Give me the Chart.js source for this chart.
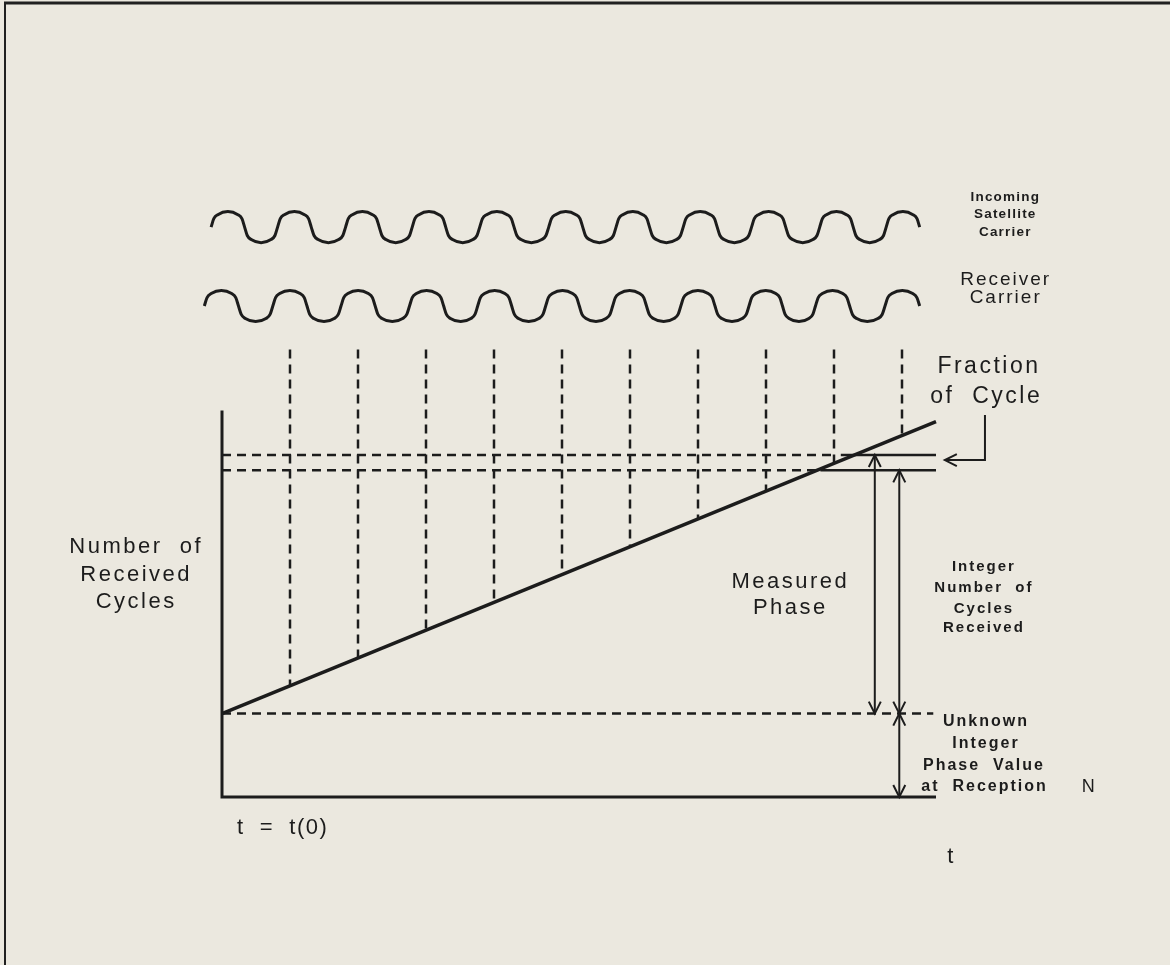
<!DOCTYPE html>
<html>
<head>
<meta charset="utf-8">
<script src="https://cdn.jsdelivr.net/npm/chart.js@4.4.1/dist/chart.umd.min.js"></script>
<style>
html,body{margin:0;padding:0;background:#ebe8df;}
#wrap{position:relative;width:1170px;height:965px;}
</style>
</head>
<body>
<div id="wrap"><canvas id="phaseChart" width="1170" height="965"></canvas></div>
<script>
// x = time t in carrier cycles (0 at t(0)), y = received phase in cycles

// crests of the two carriers
let satelliteCrests = [0.09, 1.06, 2.07, 3.04, 4.04, 5.06, 6.04, 7.03, 8.04, 9.04, 10.01]
let receiverCrests  = [-0.01, 1.0, 2.0, 3.01, 4.01, 5.01, 5.99, 7.0, 8.0, 8.97, 10.01]
let satelliteLevel = 20.5
let receiverLevel = 17.66
let carrierAmp = 0.56

// whole cycles marked with dashed verticals
let cycleTicks = [1, 2, 3, 4, 5, 6, 7, 8, 9, 10]
let tickTop = 16.1

// received phase line
let phaseT = [0, 10.5]
let phaseY = [3, 13.5]
let unknownN = 3
let measuredLevel = 12.3
let integerLevel = 11.75
let axisTop = 13.9
let axisEnd = 10.5

// arrows: [t, from, to]
let arrows = [
  [9.6, 3, 12.3],     // measured phase
  [9.96, 3, 11.75],   // integer number of cycles
  [9.96, 0, 3]        // unknown integer N
]
let fractionPointer = [[11.22, 13.74], [11.22, 12.12], [10.63, 12.12]]

// labels: text, t, y, font, letter spacing
let labels = [
  ['Incoming', 11.51, 21.58, 'bold 13.5px "Liberation Sans"', 1.2],
  ['Satellite', 11.51, 20.97, 'bold 13.5px "Liberation Sans"', 1.2],
  ['Carrier', 11.51, 20.32, 'bold 13.5px "Liberation Sans"', 1.2],
  ['Receiver', 11.51, 18.60, '19px "Liberation Sans"', 2],
  ['Carrier', 11.51, 17.95, '19px "Liberation Sans"', 2],
  ['Fraction', 11.26, 15.47, '23px "Liberation Sans"', 2.5],
  ['of  Cycle', 11.22, 14.39, '23px "Liberation Sans"', 2.5],
  ['Measured', 8.34, 7.73, '22px "Liberation Sans"', 2.5],
  ['Phase', 8.34, 6.80, '22px "Liberation Sans"', 2.5],
  ['Number  of', -1.28, 8.99, '22px "Liberation Sans"', 2.5],
  ['Received', -1.28, 7.99, '22px "Liberation Sans"', 2.5],
  ['Cycles', -1.28, 7.01, '22px "Liberation Sans"', 2.5],
  ['Integer', 11.19, 8.27, 'bold 15px "Liberation Sans"', 2],
  ['Number  of', 11.19, 7.52, 'bold 15px "Liberation Sans"', 2],
  ['Cycles', 11.19, 6.76, 'bold 15px "Liberation Sans"', 2],
  ['Received', 11.19, 6.08, 'bold 15px "Liberation Sans"', 2],
  ['Unknown', 11.22, 2.70, 'bold 16px "Liberation Sans"', 2],
  ['Integer', 11.22, 1.91, 'bold 16px "Liberation Sans"', 2],
  ['Phase  Value', 11.19, 1.12, 'bold 16px "Liberation Sans"', 2],
  ['at  Reception', 11.20, 0.36, 'bold 16px "Liberation Sans"', 2],
  ['N', 12.74, 0.36, '18px "Liberation Sans"', 0],
  ['t  =  t(0)', 0.88, -1.12, '22px "Liberation Sans"', 1.5],
  ['t', 10.71, -2.16, '22px "Liberation Sans"', 0]
]

// page scale: pixels per cycle and where t(0) / phase 0 sit on the page
let W = 1170, H = 965
let pxT = 68, pxY = 27.8, originX = 222, originY = 797

// shape of one half wave (fraction of width, fraction of amplitude)
let hump = [[0, 0], [0.08, 0.54], [0.2, 0.8], [0.5, 1], [0.8, 0.8], [0.92, 0.54]]

function carrier(crests, level, amp) {
  let cross = [crests[0] - 0.25]
  for (let i = 0; i < crests.length - 1; i++) {
    let m = (crests[i] + crests[i + 1]) / 2
    cross.push((crests[i] + m) / 2, (m + crests[i + 1]) / 2)
  }
  cross.push(crests[crests.length - 1] + 0.25)
  let pts = []
  for (let i = 0; i < cross.length - 1; i++) {
    let a = cross[i], w = cross[i + 1] - a, s = i % 2 == 0 ? 1 : -1
    hump.forEach(h => pts.push({x: a + h[0] * w, y: level + s * h[1] * amp}))
  }
  pts.push({x: cross[cross.length - 1], y: level})
  return pts
}

function lineAt(t) {
  return phaseY[0] + (phaseY[1] - phaseY[0]) * (t - phaseT[0]) / (phaseT[1] - phaseT[0])
}

let ink = '#1c1c1c'

let tickPts = []
cycleTicks.forEach(t => {
  tickPts.push({x: t, y: tickTop}, {x: t, y: lineAt(t)}, {x: t, y: null})
})

let dashH = [
  {x: 0, y: measuredLevel}, {x: 9.0, y: measuredLevel}, {x: 9.0, y: null},
  {x: 0, y: integerLevel}, {x: 8.75, y: integerLevel}, {x: 8.75, y: null},
  {x: 0, y: unknownN}, {x: 10.46, y: unknownN}
]
let solidH = [
  {x: 9.1, y: measuredLevel}, {x: axisEnd, y: measuredLevel}, {x: axisEnd, y: null},
  {x: 8.8, y: integerLevel}, {x: axisEnd, y: integerLevel}
]

function ds(data, width, dash, mono) {
  return {
    data: data, borderColor: ink, borderWidth: width, borderDash: dash || [],
    pointRadius: 0, fill: false, spanGaps: false,
    tension: 0, cubicInterpolationMode: mono ? 'monotone' : 'default'
  }
}

function arrowHead(ctx, x, y, dx, dy) {
  let L = 12, Wd = 6
  let bx = x - dx * L, by = y - dy * L
  ctx.beginPath()
  ctx.moveTo(bx - dy * Wd, by + dx * Wd)
  ctx.lineTo(x, y)
  ctx.lineTo(bx + dy * Wd, by - dx * Wd)
  ctx.stroke()
}

let paper = {
  id: 'paper',
  beforeDraw(chart) {
    let ctx = chart.ctx
    ctx.save()
    ctx.fillStyle = '#ebe8df'
    ctx.fillRect(0, 0, W, H)
    ctx.strokeStyle = '#202020'
    ctx.lineWidth = 3
    ctx.beginPath(); ctx.moveTo(4, 3); ctx.lineTo(W, 3); ctx.stroke()
    ctx.lineWidth = 2
    ctx.beginPath(); ctx.moveTo(5, 3); ctx.lineTo(5, H); ctx.stroke()
    ctx.restore()
  },
  afterDatasetsDraw(chart) {
    let ctx = chart.ctx, sx = chart.scales.x, sy = chart.scales.y
    ctx.save()
    ctx.strokeStyle = ink
    ctx.fillStyle = ink
    ctx.lineWidth = 2
    arrows.forEach(a => {
      let x = sx.getPixelForValue(a[0])
      let y0 = sy.getPixelForValue(a[1]), y1 = sy.getPixelForValue(a[2])
      ctx.beginPath(); ctx.moveTo(x, y0); ctx.lineTo(x, y1); ctx.stroke()
      arrowHead(ctx, x, y1, 0, -1)
      arrowHead(ctx, x, y0, 0, 1)
    })
    ctx.beginPath()
    fractionPointer.forEach((p, i) => {
      let x = sx.getPixelForValue(p[0]), y = sy.getPixelForValue(p[1])
      if (i == 0) ctx.moveTo(x, y); else ctx.lineTo(x, y)
    })
    ctx.stroke()
    let last = fractionPointer[fractionPointer.length - 1]
    arrowHead(ctx, sx.getPixelForValue(last[0]), sy.getPixelForValue(last[1]), -1, 0)

    ctx.textAlign = 'center'
    ctx.textBaseline = 'middle'
    labels.forEach(l => {
      ctx.font = l[3]
      ctx.letterSpacing = l[4] + 'px'
      ctx.fillText(l[0], sx.getPixelForValue(l[1]) + l[4] / 2, sy.getPixelForValue(l[2]))
    })
    ctx.restore()
  }
}

let chart = new Chart(document.getElementById('phaseChart'), {
  type: 'line',
  data: {
    datasets: [
      ds(carrier(satelliteCrests, satelliteLevel, carrierAmp), 3, null, true),
      ds(carrier(receiverCrests, receiverLevel, carrierAmp), 3, null, true),
      ds(tickPts, 2.5, [9, 6]),
      ds(dashH, 2.5, [9, 6]),
      ds(solidH, 2.5),
      ds([{x: 0, y: axisTop}, {x: 0, y: 0}, {x: axisEnd, y: 0}], 3),
      ds(phaseT.map((t, i) => ({x: t, y: phaseY[i]})), 3.5)
    ]
  },
  options: {
    responsive: false,
    animation: false,
    events: [],
    layout: {padding: 0},
    plugins: {legend: {display: false}, tooltip: {enabled: false}},
    scales: {
      x: {type: 'linear', display: false, min: -originX / pxT, max: (W - originX) / pxT},
      y: {type: 'linear', display: false, min: -(H - originY) / pxY, max: originY / pxY}
    }
  },
  plugins: [paper]
})
</script>
</body>
</html>
